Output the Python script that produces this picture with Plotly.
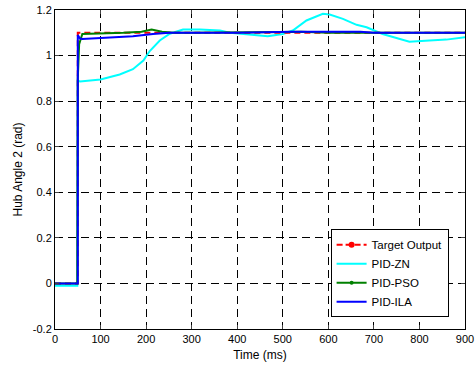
import plotly.graph_objects as go

# Target output
t_target = [0, 50, 50, 900]
y_target = [0, 0, 1.1, 1.1]

# PID-ZN
t_zn = [0, 49, 50, 55, 100, 142, 171, 194, 208, 230, 252, 281, 318, 362, 384, 430, 467,
        500, 522, 552, 588, 603, 632, 662, 684, 719, 757, 778, 822, 859, 900]
y_zn = [-0.01, -0.01, 0.89, 0.886, 0.895, 0.917, 0.94, 0.978, 1.02, 1.066, 1.096, 1.114,
        1.114, 1.11, 1.1, 1.09, 1.085, 1.095, 1.11, 1.154, 1.183, 1.18, 1.161, 1.135, 1.124,
        1.095, 1.073, 1.061, 1.066, 1.07, 1.08]

# PID-PSO
t_pso = [0, 49, 50, 53, 60, 100, 150, 190, 212, 235, 260, 300, 400, 500, 540, 600, 700, 900]
y_pso = [0, 0, 0.9, 1.05, 1.095, 1.097, 1.1, 1.105, 1.114, 1.105, 1.1, 1.1, 1.1, 1.103,
         1.105, 1.1, 1.1, 1.1]

# PID-ILA
t_ila = [0, 50, 50, 55, 60, 100, 171, 215, 250, 400, 520, 670, 700, 900]
y_ila = [0, 0, 1.09, 1.075, 1.073, 1.078, 1.085, 1.095, 1.1, 1.1, 1.105, 1.105, 1.1, 1.1]

x_ticks = [0, 100, 200, 300, 400, 500, 600, 700, 800, 900]
y_ticks = [-0.2, 0, 0.2, 0.4, 0.6, 0.8, 1.0, 1.2]
y_tick_text = ["-0.2", "0", "0.2", "0.4", "0.6", "0.8", "1", "1.2"]

FONT = "Liberation Sans, Arial, Helvetica, sans-serif"

fig = go.Figure()
fig.add_trace(go.Scatter(x=t_zn, y=y_zn, mode="lines", line=dict(color="#00FFFF", width=2),
                         showlegend=False))
fig.add_trace(go.Scatter(x=t_target, y=y_target, mode="lines",
                         line=dict(color="#FF0000", width=2, dash="6px,4px"), showlegend=False))
fig.add_trace(go.Scatter(x=t_pso, y=y_pso, mode="lines", line=dict(color="#008000", width=2),
                         showlegend=False))
fig.add_trace(go.Scatter(x=t_ila, y=y_ila, mode="lines", line=dict(color="#0000FF", width=2),
                         showlegend=False))

# legend entries
fig.add_trace(go.Scatter(x=[None], y=[None], mode="lines+markers", name="Target Output",
                         line=dict(color="#FF0000", width=2, dash="6px,3px"),
                         marker=dict(size=6, color="#FF0000")))
fig.add_trace(go.Scatter(x=[None], y=[None], mode="lines", name="PID-ZN",
                         line=dict(color="#00FFFF", width=2)))
fig.add_trace(go.Scatter(x=[None], y=[None], mode="lines+markers", name="PID-PSO",
                         line=dict(color="#008000", width=2), marker=dict(size=4, color="#008000")))
fig.add_trace(go.Scatter(x=[None], y=[None], mode="lines", name="PID-ILA",
                         line=dict(color="#0000FF", width=2)))

grid = dict(showgrid=True, gridcolor="#000000", gridwidth=1, griddash="8px,5px")
fig.update_xaxes(range=[0, 900], tickvals=x_ticks, ticks="inside", ticklen=4,
                 showline=True, linecolor="black", linewidth=1, mirror="ticks",
                 zeroline=False, automargin=False,
                 title=dict(text="Time (ms)", standoff=6, font=dict(size=12)), **grid)
fig.update_yaxes(range=[-0.2, 1.2], tickvals=y_ticks, ticktext=y_tick_text, ticks="inside",
                 ticklen=4, showline=True, linecolor="black", linewidth=1, mirror="ticks",
                 zeroline=False, automargin=False,
                 title=dict(text="Hub Angle 2 (rad)", standoff=7, font=dict(size=12)), **grid)

fig.update_layout(
    width=475, height=370,
    margin=dict(l=55, r=10, t=10, b=41),
    paper_bgcolor="white", plot_bgcolor="white",
    font=dict(family=FONT, size=11, color="black"),
    legend=dict(x=0.96, y=0.037, xanchor="right", yanchor="bottom",
                bgcolor="white", bordercolor="black", borderwidth=1,
                font=dict(size=11.5), tracegroupgap=0),
)

fig.write_html("out.html", config={"displayModeBar": False},
               post_script="document.body.style.margin='0';")
